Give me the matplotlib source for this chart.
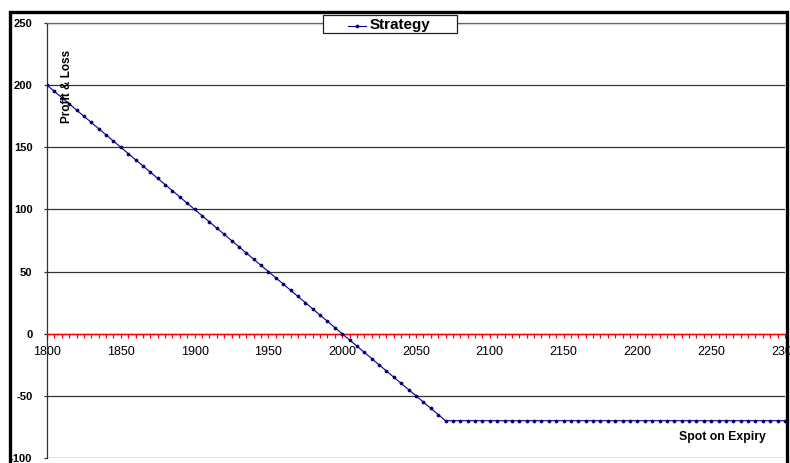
import matplotlib
matplotlib.use("Agg")
import matplotlib.pyplot as plt
from matplotlib.patches import Rectangle
from matplotlib.lines import Line2D
from matplotlib.ticker import MultipleLocator

plt.rcParams['font.family'] = ['Liberation Sans', 'DejaVu Sans']

# Spot price at expiry (every 5 points)
spot = [
    1800, 1805, 1810, 1815, 1820, 1825, 1830, 1835, 1840, 1845,
    1850, 1855, 1860, 1865, 1870, 1875, 1880, 1885, 1890, 1895,
    1900, 1905, 1910, 1915, 1920, 1925, 1930, 1935, 1940, 1945,
    1950, 1955, 1960, 1965, 1970, 1975, 1980, 1985, 1990, 1995,
    2000, 2005, 2010, 2015, 2020, 2025, 2030, 2035, 2040, 2045,
    2050, 2055, 2060, 2065, 2070, 2075, 2080, 2085, 2090, 2095,
    2100, 2105, 2110, 2115, 2120, 2125, 2130, 2135, 2140, 2145,
    2150, 2155, 2160, 2165, 2170, 2175, 2180, 2185, 2190, 2195,
    2200, 2205, 2210, 2215, 2220, 2225, 2230, 2235, 2240, 2245,
    2250, 2255, 2260, 2265, 2270, 2275, 2280, 2285, 2290, 2295,
    2300,
]

# Strategy profit & loss at each spot level
pnl = [
    200, 195, 190, 185, 180, 175, 170, 165, 160, 155,
    150, 145, 140, 135, 130, 125, 120, 115, 110, 105,
    100, 95, 90, 85, 80, 75, 70, 65, 60, 55,
    50, 45, 40, 35, 30, 25, 20, 15, 10, 5,
    0, -5, -10, -15, -20, -25, -30, -35, -40, -45,
    -50, -55, -60, -65, -70, -70, -70, -70, -70, -70,
    -70, -70, -70, -70, -70, -70, -70, -70, -70, -70,
    -70, -70, -70, -70, -70, -70, -70, -70, -70, -70,
    -70, -70, -70, -70, -70, -70, -70, -70, -70, -70,
    -70, -70, -70, -70, -70, -70, -70, -70, -70, -70,
    -70,
]

x_ticks = [1800, 1850, 1900, 1950, 2000, 2050, 2100, 2150, 2200, 2250, 2300]
y_ticks = [-100, -50, 0, 50, 100, 150, 200, 250]
series_name = "Strategy"
y_title = "Profit & Loss"
x_title = "Spot on Expiry"

W, H = 790, 463
fig = plt.figure(figsize=(W / 100, H / 100), dpi=100)
fig.patch.set_facecolor("white")


def fx(px):
    return px / W


def fy(py):
    return 1 - py / H


ax = fig.add_axes([fx(47), fy(458), fx(785) - fx(47), fy(23) - fy(458)])
ax.set_facecolor("white")

navy = "#000080"
ax.plot(spot, pnl, color=navy, lw=0.8, marker="o", ms=1.7,
        mec=navy, mfc=navy, zorder=4)

ax.set_xlim(1800, 2300)
ax.set_ylim(-100, 250)

# horizontal gridlines
ax.set_yticks(y_ticks)
ax.yaxis.grid(True, color="#333333", lw=0.9)
ax.set_axisbelow(True)

# x axis crosses at zero, drawn in red with a tick for every point
ax.spines['bottom'].set_position(('data', 0))
ax.spines['bottom'].set_color("red")
ax.spines['bottom'].set_linewidth(1.0)
ax.spines['bottom'].set_zorder(3)
ax.spines['top'].set_color("#666666")
ax.spines['top'].set_linewidth(0.9)
ax.spines['right'].set_visible(False)
ax.spines['left'].set_color("#333333")
ax.spines['left'].set_linewidth(0.9)

ax.set_xticks(x_ticks)
ax.set_xticklabels([str(v) for v in x_ticks])
ax.xaxis.set_minor_locator(MultipleLocator(5))
ax.tick_params(axis='x', which='both', direction='out', length=3,
               width=0.9, color="red", labelsize=9, pad=5.5,
               labelcolor="black")

ax.set_yticklabels([str(v) for v in y_ticks], fontweight="bold")
ax.tick_params(axis='y', which='major', direction='out', length=2.5,
               width=0.9, color="#333333", labelsize=8, pad=8)

# axis titles
fig.text(fx(67), fy(86), y_title, rotation=90, fontsize=8.5,
         fontweight="bold", ha="center", va="center")
fig.text(fx(722), fy(437), x_title, fontsize=8.8, fontweight="bold",
         ha="center", va="center")

# chart border
fig.add_artist(Rectangle((fx(10), fy(H + 20)), fx(786.5) - fx(10),
                         fy(11.5) - fy(H + 20), transform=fig.transFigure,
                         fill=False, ec="black", lw=2.4, zorder=10,
                         clip_on=False))

# legend box
fig.add_artist(Rectangle((fx(323), fy(33)), fx(457) - fx(323),
                         fy(14.5) - fy(33), transform=fig.transFigure,
                         fc="white", ec="#222222", lw=0.9, zorder=11))
fig.add_artist(Line2D([fx(348), fx(366)], [fy(25.5), fy(25.5)],
                      transform=fig.transFigure, color=navy, lw=0.8,
                      zorder=12))
fig.add_artist(Line2D([fx(357)], [fy(25.5)], transform=fig.transFigure,
                      color=navy, marker="o", ms=1.7, zorder=12))
fig.text(fx(370), fy(25), series_name, fontsize=11, fontweight="bold",
         ha="left", va="center", zorder=12)

fig.savefig("out.png", dpi=100, facecolor="white")
